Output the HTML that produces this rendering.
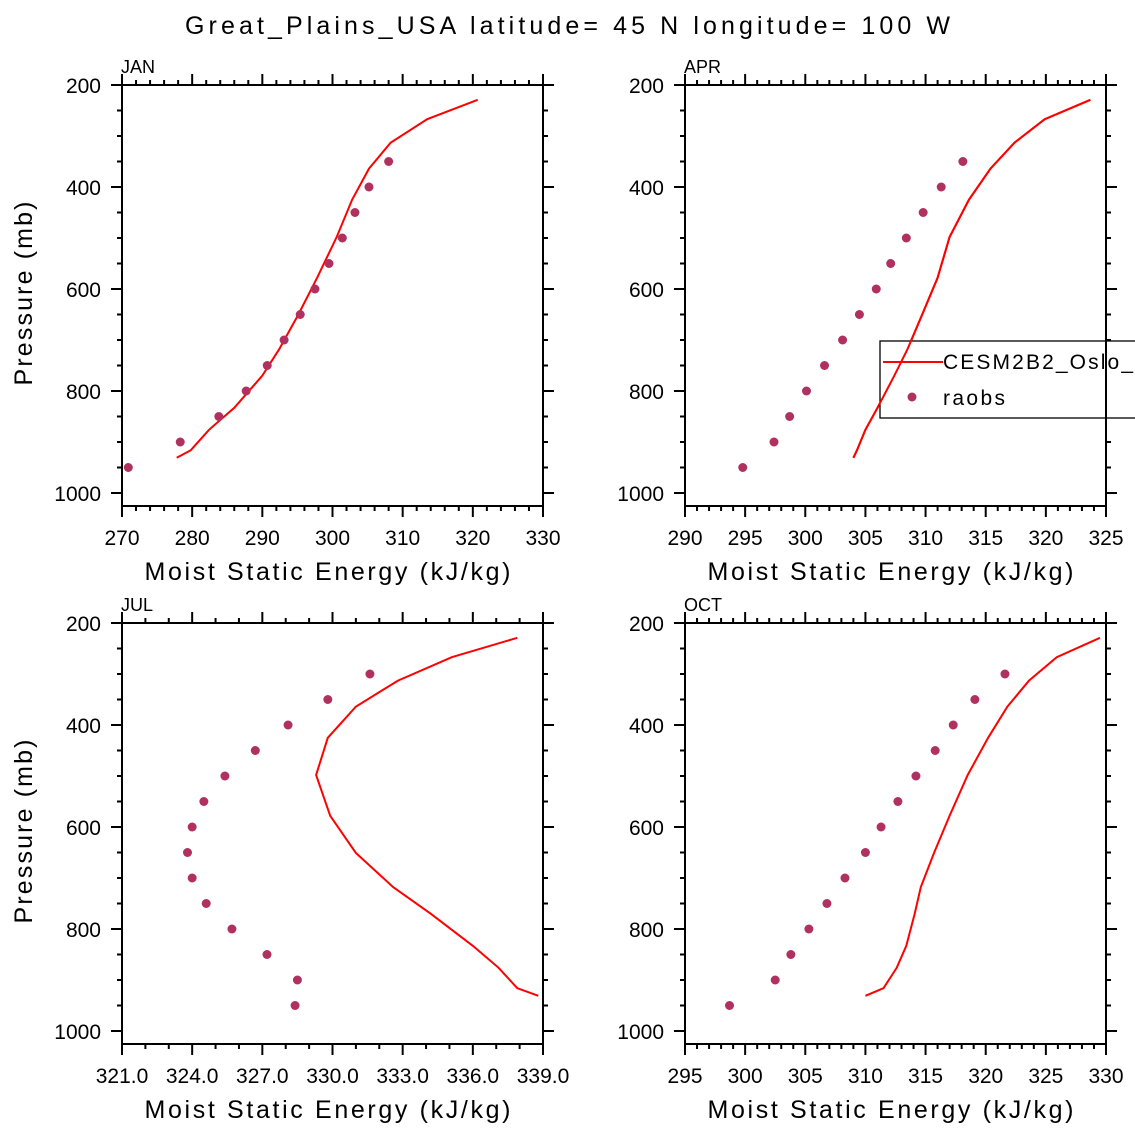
<!DOCTYPE html>
<html><head><meta charset="utf-8"><style>
html,body{margin:0;padding:0;background:#fff;}
svg{display:block;font-family:"Liberation Sans",sans-serif;}
</style></head><body>
<svg id="chart" width="1135" height="1135" viewBox="0 0 1135 1135" xmlns="http://www.w3.org/2000/svg">
<rect width="1135" height="1135" fill="#fff"/>
<text x="185" y="34" font-size="25" textLength="765" lengthAdjust="spacing" fill="#000">Great_Plains_USA  latitude= 45 N longitude= 100 W</text>
</svg>
<script>
const modelLevels = [931,916,876,833,770,718,651,578,498,425,364,313,267,229];
const obsLevels = [950,900,850,800,750,700,650,600,550,500,450,400,350,300];
const janModel = [277.8,279.8,282.4,286.0,290.0,292.4,295.1,297.8,300.6,302.8,305.2,308.3,313.5,320.7];
const janObs = [270.9,278.3,283.8,287.7,290.7,293.1,295.4,297.5,299.5,301.4,303.2,305.2,308.0];
const aprModel = [304.0,304.3,305.0,306.0,307.4,308.5,309.7,311.0,312.0,313.6,315.4,317.4,319.9,323.7];
const aprObs = [294.8,297.4,298.7,300.1,301.6,303.1,304.5,305.9,307.1,308.4,309.8,311.3,313.1];
const julModel = [338.8,337.9,337.1,336.0,334.2,332.6,331.0,329.9,329.3,329.8,331.0,332.8,335.1,337.9];
const julObs = [328.4,328.5,327.2,325.7,324.6,324.0,323.8,324.0,324.5,325.4,326.7,328.1,329.8,331.6];
const octModel = [310.0,311.5,312.6,313.4,314.1,314.6,315.7,317.0,318.5,320.2,321.8,323.6,325.9,329.5];
const octObs = [298.7,302.5,303.8,305.3,306.8,308.3,310.0,311.3,312.7,314.2,315.8,317.3,319.1,321.6];
const janTicks = [270,280,290,300,310,320,330];
const aprTicks = [290,295,300,305,310,315,320,325];
const julTicks = [321,324,327,330,333,336,339];
const octTicks = [295,300,305,310,315,320,325,330];
const yTicks = [200,400,600,800,1000];

const NS = "http://www.w3.org/2000/svg";
const svg = document.getElementById('chart');
function mk(tag, attrs, parent){const e=document.createElementNS(NS,tag);for(const k in attrs)e.setAttribute(k,attrs[k]);(parent||svg).appendChild(e);return e;}

function panel(key, label, L, T, xmin, xmax, xticks, minorStep, decimals, model, obs, ylab){
  const R = L+421, B = T+421;
  const g = mk('g',{});
  
  
  const px = v => L + (v-xmin)/(xmax-xmin)*(R-L);
  const py = p => T + (p-200)*0.51;
  const fr = mk('rect',{x:L,y:T,width:R-L,height:B-T,fill:'none',stroke:'#000','stroke-width':2},g);
  
  
  const nMin = Math.round((xmax-xmin)/minorStep);
  for(let i=0;i<=nMin;i++){
    const v = xmin+i*minorStep; const x = px(v);
    const major = xticks.some(t=>Math.abs(t-v)<1e-6);
    const len = major?11:5;
    mk('line',{x1:x,y1:B,x2:x,y2:B+len,stroke:'#000','stroke-width':2},g);
    mk('line',{x1:x,y1:T,x2:x,y2:T-len,stroke:'#000','stroke-width':2},g);
  }
  xticks.forEach(t=>{
    const tx = mk('text',{x:px(t),y:B+39,'font-size':21,'text-anchor':'middle'},g);
    
    
    tx.textContent = t.toFixed(decimals);
  });
  for(let p=200;p<=1000;p+=50){
    const y = py(p); const major = p%200===0; const len = major?11:5;
    mk('line',{x1:L,y1:y,x2:L-len,y2:y,stroke:'#000','stroke-width':2},g);
    mk('line',{x1:R,y1:y,x2:R+len,y2:y,stroke:'#000','stroke-width':2},g);
  }
  yTicks.forEach(p=>{
    const tx = mk('text',{x:L-21,y:py(p)+8,'font-size':21,'text-anchor':'end'},g);
    
    
    tx.textContent = p;
  });
  const xl = mk('text',{x:(L+R)/2-366/2-5,y:B+74,'font-size':25,textLength:366,lengthAdjust:'spacing'},g);
  
  
  xl.textContent = 'Moist Static Energy (kJ/kg)';
  if(ylab){
    const yl = mk('text',{x:-92,y:0,'font-size':25,textLength:184,lengthAdjust:'spacing',transform:`translate(32,${(T+B)/2-2}) rotate(-90)`},g);
    
    
    yl.textContent = 'Pressure (mb)';
  }
  const ml = mk('text',{x:L-1,y:T-12,'font-size':18},g);
  
  
  ml.textContent = label;
  const pts = model.map((v,i)=>px(v).toFixed(1)+','+py(modelLevels[i]).toFixed(1)).join(' ');
  const pl = mk('polyline',{points:pts,fill:'none',stroke:'#ff0000','stroke-width':2},g);
  
  
  obs.forEach((v,i)=>{
    const c = mk('circle',{cx:px(v),cy:py(obsLevels[i]),r:4.5,fill:'#b03060'},g);
    
    
  });
}
panel('jan','JAN',122,85,270,330,janTicks,2,0,janModel,janObs,true);
panel('apr','APR',685,85,290,325,aprTicks,1,0,aprModel,aprObs,false);
panel('jul','JUL',122,623,321,339,julTicks,1,1,julModel,julObs,true);
panel('oct','OCT',685,623,295,330,octTicks,1,0,octModel,octObs,false);

const lg = mk('g',{});


mk('rect',{x:880,y:341,width:270,height:77,fill:'#fff',stroke:'#000','stroke-width':1.3},lg);
const le1 = mk('g',{},lg);


mk('line',{x1:883,y1:362,x2:943,y2:362,stroke:'#ff0000','stroke-width':2},le1);
const t1 = mk('text',{x:943,y:369,'font-size':21,textLength:190,lengthAdjust:'spacing'},le1);
t1.textContent = 'CESM2B2_Oslo_';
const le2 = mk('g',{},lg);


mk('circle',{cx:912,cy:397,r:4.5,fill:'#b03060'},le2);
const t2 = mk('text',{x:943,y:405,'font-size':21,textLength:62,lengthAdjust:'spacing'},le2);
t2.textContent = 'raobs';
const aprPx = v => 685 + (v-290)/35*421;
const aprPts = aprModel.map((v,i)=>aprPx(v).toFixed(1)+','+(85+(modelLevels[i]-200)*0.51).toFixed(1)).join(' ');
const over = mk('polyline',{points:aprPts,fill:'none',stroke:'#ff0000','stroke-width':2});


mk('line',{x1:1106,y1:341,x2:1106,y2:418,stroke:'#000','stroke-width':2});
</script>
</body></html>
